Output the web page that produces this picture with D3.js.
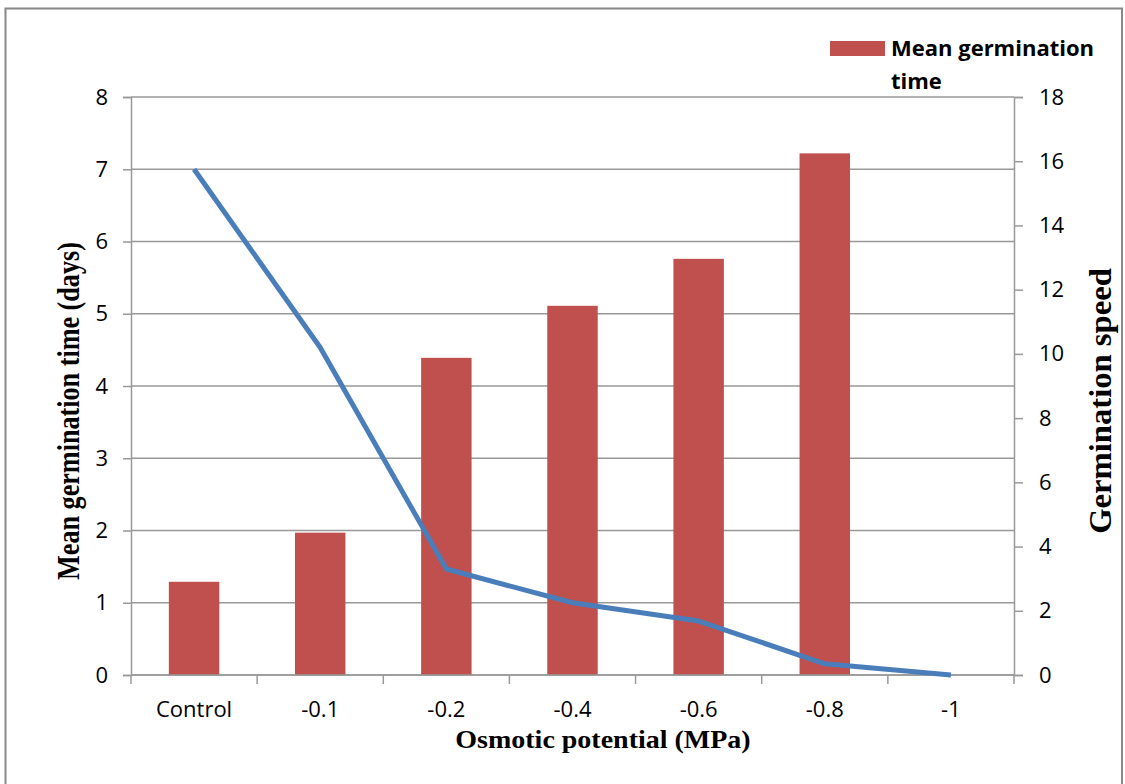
<!DOCTYPE html>
<html>
<head>
<meta charset="utf-8">
<script src="https://cdn.jsdelivr.net/npm/d3@7"></script>
<style>
  html, body { margin: 0; padding: 0; background: #fff; }
  svg { display: block; }
</style>
</head>
<body>
<div id="chart"></div>
<script>
// Osmotic potential treatments
const categories = ["Control", "-0.1", "-0.2", "-0.4", "-0.6", "-0.8", "-1"];
// Mean germination time (days), bars on the left axis
const meanGerminationTime = [1.29, 1.97, 4.39, 5.11, 5.76, 7.22, 0];
// Germination speed, line on the right axis
const germinationSpeed = [15.75, 10.2, 3.3, 2.25, 1.68, 0.35, 0];
const leftTicks = [0, 1, 2, 3, 4, 5, 6, 7, 8];
const rightTicks = [0, 2, 4, 6, 8, 10, 12, 14, 16, 18];

const W = 1125, H = 784;
const plot = { left: 131, right: 1014, top: 97, bottom: 675 };

const svg = d3.select("#chart").append("svg")
  .attr("width", W).attr("height", H);

// outer frame
svg.append("rect")
  .attr("x", 5.5).attr("y", 8.5)
  .attr("width", 1116.5).attr("height", 790)
  .attr("fill", "none").attr("stroke", "#888").attr("stroke-width", 2);

const x = d3.scaleBand().domain(categories)
  .range([plot.left, plot.right]).paddingInner(0).paddingOuter(0);
const yL = d3.scaleLinear().domain([0, 8]).range([plot.bottom, plot.top]);
const yR = d3.scaleLinear().domain([0, 18]).range([plot.bottom, plot.top]);

const grid = "#999";
const tickFont = "'Open Sans', sans-serif";

// horizontal gridlines
svg.append("g").selectAll("line").data(leftTicks).join("line")
  .attr("x1", plot.left).attr("x2", plot.right)
  .attr("y1", d => yL(d)).attr("y2", d => yL(d))
  .attr("stroke", grid).attr("stroke-width", 1.5);

// bars
const barW = x.bandwidth() * 0.4;
svg.append("g").selectAll("rect").data(categories).join("rect")
  .attr("x", d => x(d) + (x.bandwidth() - barW) / 2)
  .attr("width", barW)
  .attr("y", (d, i) => yL(meanGerminationTime[i]))
  .attr("height", (d, i) => yL(0) - yL(meanGerminationTime[i]))
  .attr("fill", "#c0504d");

// left axis
const leftAxis = svg.append("g")
  .attr("transform", `translate(${plot.left},0)`)
  .call(d3.axisLeft(yL).tickValues(leftTicks).tickSize(8).tickPadding(15).tickFormat(d3.format("d")));
// right axis
const rightAxis = svg.append("g")
  .attr("transform", `translate(${plot.right},0)`)
  .call(d3.axisRight(yR).tickValues(rightTicks).tickSize(9).tickPadding(16).tickFormat(d3.format("d")));
// bottom axis with ticks at category boundaries
const bottomAxis = svg.append("g")
  .attr("transform", `translate(0,${plot.bottom})`)
  .call(d3.axisBottom(x).tickSize(0).tickPadding(26));
bottomAxis.selectAll(".boundary")
  .data(d3.range(categories.length + 1)).join("line")
  .attr("class", "boundary")
  .attr("x1", i => plot.left + i * x.bandwidth())
  .attr("x2", i => plot.left + i * x.bandwidth())
  .attr("y1", 0).attr("y2", 9)
  .attr("stroke", grid).attr("stroke-width", 1.5);

[leftAxis, rightAxis, bottomAxis].forEach(a => {
  a.select(".domain").attr("stroke", grid).attr("stroke-width", 1.5);
  a.selectAll(".tick line").attr("stroke", grid).attr("stroke-width", 1.5);
  a.selectAll(".tick text")
    .attr("font-family", tickFont).attr("font-size", 22).attr("fill", "#000");
});
bottomAxis.select(".domain").attr("d", `M${plot.left},0H${plot.right}`);

// germination speed line
const line = d3.line()
  .x((d, i) => x(categories[i]) + x.bandwidth() / 2)
  .y(d => yR(d));
svg.append("path").datum(germinationSpeed)
  .attr("d", line)
  .attr("fill", "none").attr("stroke", "#4a7ebb")
  .attr("stroke-width", 5).attr("stroke-linejoin", "round");

// axis titles (slightly stretched serif lettering)
const titleFont = "'Liberation Serif', 'Times New Roman', serif";
function title(transform, text, size) {
  svg.append("text")
    .attr("transform", transform)
    .attr("text-anchor", "middle")
    .attr("font-family", titleFont).attr("font-weight", "bold").attr("font-size", size)
    .text(text);
}
title("translate(603,748) scale(1.12,1)", "Osmotic potential (MPa)", 25);
title("translate(79,411) rotate(-90) scale(1.09,1.35)", "Mean germination time (days)", 24);
title("translate(1111,401) rotate(-90) scale(1.36,1.35)", "Germination speed", 24);

// legend
const legend = svg.append("g");
legend.append("rect")
  .attr("x", 830).attr("y", 41).attr("width", 55).attr("height", 15)
  .attr("fill", "#c0504d");
legend.append("text")
  .attr("x", 891).attr("y", 56)
  .attr("font-family", tickFont).attr("font-weight", "bold").attr("font-size", 22)
  .text("Mean germination");
legend.append("text")
  .attr("x", 891).attr("y", 89)
  .attr("font-family", tickFont).attr("font-weight", "bold").attr("font-size", 22)
  .text("time");
</script>
</body>
</html>
